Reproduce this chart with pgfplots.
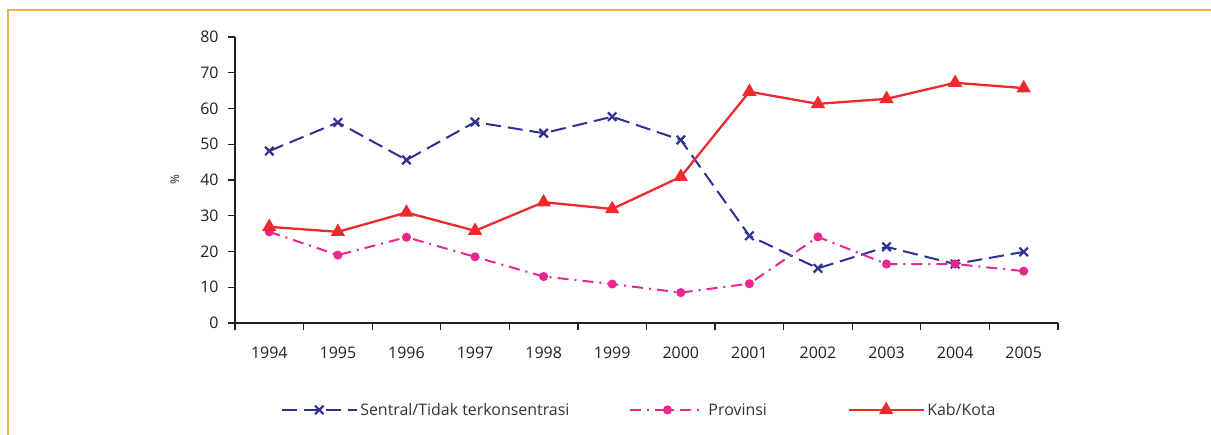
\documentclass[border=0pt]{standalone}
\usepackage{fontspec}
\setmainfont{Open Sans}
\usepackage{pgfplots}
\pgfplotsset{compat=1.18}

\definecolor{sentral}{HTML}{2E3192}
\definecolor{prov}{HTML}{EC268F}
\definecolor{kab}{HTML}{ED2A2E}
\definecolor{frame}{HTML}{F0B441}
\definecolor{ink}{HTML}{231F20}

\begin{document}
\begin{tikzpicture}
\path[use as bounding box] (0,0) rectangle (1211bp,435bp);
\draw[frame, line width=2.5bp] (8bp,0) -- (8bp,425bp) -- (1211bp,425bp);
\begin{axis}[
  at={(235bp,112bp)}, anchor=south west,
  scale only axis, width=823bp, height=286bp,
  axis x line=bottom, axis y line=left,
  axis line style={-, draw=ink, line width=1.2bp},
  xmin=-0.5, xmax=11.5, ymin=0, ymax=80,
  ytick={0,10,...,80},
  xtick={-0.5,0.5,...,11.5}, xticklabels={},
  extra x ticks={0,1,2,3,4,5,6,7,8,9,10,11},
  extra x tick labels={1994,1995,1996,1997,1998,1999,2000,2001,2002,2003,2004,2005},
  extra x tick style={major tick length=0pt,
    xticklabel style={yshift=-20bp}},
  tick align=outside, major tick length=7bp,
  tick style={draw=ink, line width=1.2bp},
  /pgf/number format/assume math mode=true,
  ticklabel style={font=\fontsize{16}{19}\selectfont, text=ink},
  yticklabel style={xshift=-6bp},
  ylabel={\%},
  ylabel style={at={(axis description cs:-0.073,0.5)}, anchor=center,
    font=\fontsize{12}{14}\selectfont, text=ink},
  clip=false,
  legend columns=3,
  legend style={at={(axis description cs:0.056,-0.304)}, anchor=west,
    draw=none, fill=none, inner sep=0pt,
    font=\fontsize{16}{19}\selectfont, text=black!80},
  legend image code/.code={
    \draw[mark repeat=2, mark phase=2, #1] plot coordinates {(0bp,0bp) (37bp,0bp) (75bp,0bp)};},
]
\addplot[color=sentral, line width=2bp, dash pattern=on 15bp off 7bp,
  mark=x, mark size=6bp, mark options={solid, line width=2.2bp}] coordinates {
  (0,48.1)(1,56.1)(2,45.6)(3,56.2)(4,53.1)(5,57.7)
  (6,51.2)(7,24.4)(8,15.3)(9,21.3)(10,16.5)(11,19.9)
};
\addlegendentry{Sentral/Tidak terkonsentrasi\kern58bp}
\addplot[color=prov, line width=2bp, dash pattern=on 11bp off 6bp on 2bp off 6bp,
  mark=*, mark size=3.5bp, mark options={solid}] coordinates {
  (0,25.5)(1,19.0)(2,24.0)(3,18.5)(4,13.0)(5,10.9)
  (6,8.5)(7,11.0)(8,24.1)(9,16.5)(10,16.5)(11,14.5)
};
\addlegendentry{Provinsi\kern79bp}
\addplot[color=kab, line width=2.3bp,
  mark=triangle*, mark size=6bp, mark options={solid}] coordinates {
  (0,26.9)(1,25.5)(2,30.9)(3,25.8)(4,33.8)(5,31.9)
  (6,40.9)(7,64.7)(8,61.3)(9,62.7)(10,67.2)(11,65.7)
};
\addlegendentry{Kab/Kota}
\end{axis}
\end{tikzpicture}
\end{document}
